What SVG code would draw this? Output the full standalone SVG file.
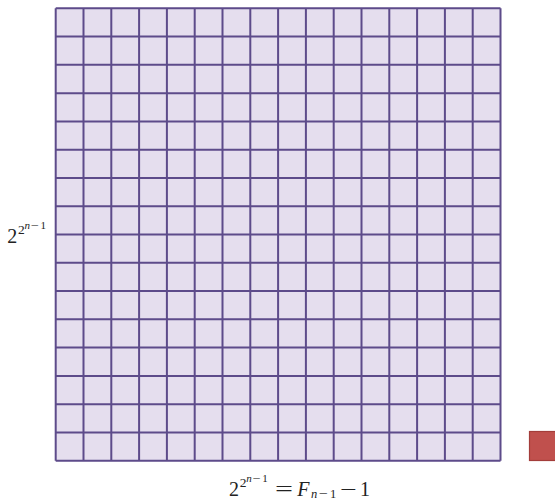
<svg xmlns="http://www.w3.org/2000/svg" width="555" height="499" viewBox="0 0 555 499">
<style>
.cell{fill:#e5deee}
.grid{fill:none;stroke:#5d4b8a;stroke-width:2}
.t{font-family:"Liberation Serif","Times New Roman",serif;fill:#222}
.i{font-style:italic}
</style>
<rect width="555" height="499" fill="#ffffff"/>
<g id="grid">
<rect class="cell" x="55.7" y="8.3" width="444.8" height="452.4"/>
<path class="grid" d="M55.7 8.3V460.7M83.5 8.3V460.7M111.3 8.3V460.7M139.1 8.3V460.7M166.9 8.3V460.7M194.7 8.3V460.7M222.5 8.3V460.7M250.3 8.3V460.7M278.1 8.3V460.7M305.9 8.3V460.7M333.7 8.3V460.7M361.5 8.3V460.7M389.3 8.3V460.7M417.1 8.3V460.7M444.9 8.3V460.7M472.7 8.3V460.7M500.5 8.3V460.7M55.7 8.3H500.5M55.7 36.58H500.5M55.7 64.85H500.5M55.7 93.13H500.5M55.7 121.4H500.5M55.7 149.68H500.5M55.7 177.95H500.5M55.7 206.23H500.5M55.7 234.5H500.5M55.7 262.78H500.5M55.7 291.05H500.5M55.7 319.33H500.5M55.7 347.6H500.5M55.7 375.88H500.5M55.7 404.15H500.5M55.7 432.43H500.5M55.7 460.7H500.5"/>
</g>
<g id="red-block">
<rect x="529.5" y="431.5" width="30" height="29" fill="#c0504d" stroke="#a33d3a" stroke-width="1.2"/>
</g>
<g id="left-label" class="t">
<text x="7.3" y="242.7" font-size="20">2</text>
<text x="18" y="234" font-size="13.5">2</text>
<text x="24.5" y="229" font-size="11"><tspan class="i">n</tspan><tspan x="30.5" textLength="8" lengthAdjust="spacingAndGlyphs">−</tspan><tspan x="40.5">1</tspan></text>
</g>
<g id="bottom-label" class="t">
<text x="229" y="495.7" font-size="20">2</text>
<text x="239.7" y="487" font-size="13.5">2</text>
<text x="246.2" y="482" font-size="11"><tspan class="i">n</tspan><tspan x="252.2" textLength="8" lengthAdjust="spacingAndGlyphs">−</tspan><tspan x="262.2">1</tspan></text>
<text x="275" y="495.7" font-size="20" textLength="18" lengthAdjust="spacingAndGlyphs">=</text>
<text x="297.2" y="495.7" font-size="20" class="i">F</text>
<text x="311" y="497.5" font-size="12.5"><tspan class="i">n</tspan><tspan x="318.5" textLength="9" lengthAdjust="spacingAndGlyphs">−</tspan><tspan x="330">1</tspan></text>
<text x="340" y="495.7" font-size="20" textLength="16.7" lengthAdjust="spacingAndGlyphs">−</text>
<text x="360" y="495.7" font-size="20">1</text>
</g>
</svg>
